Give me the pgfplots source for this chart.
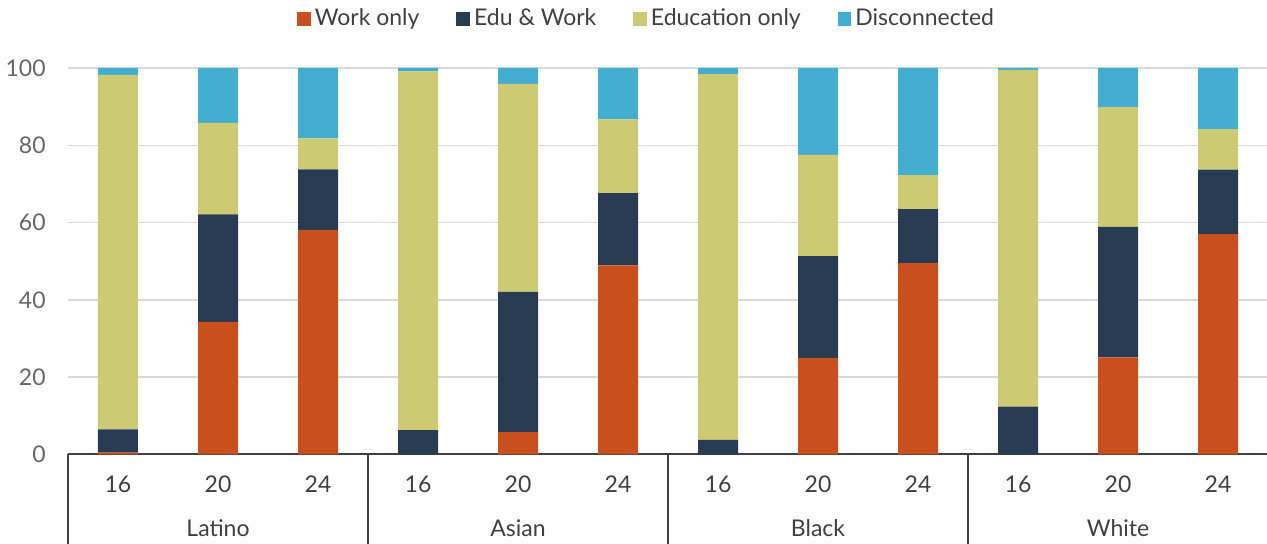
\documentclass[border=0pt]{standalone}
\usepackage{pgfplots}
\pgfplotsset{compat=1.18}
\usepackage{pgfplotstable}
\usepackage{fontspec}
\setmainfont{Lato}

\definecolor{workc}{HTML}{C9501C}
\definecolor{eduworkc}{HTML}{293A53}
\definecolor{educ}{HTML}{CDCA74}
\definecolor{discc}{HTML}{44AED1}
\definecolor{gridc}{HTML}{DADADA}
\definecolor{axc}{HTML}{404040}
\definecolor{ticktxt}{HTML}{666666}

% shares by age (16, 20, 24) within each group
\pgfplotstableread{
x work eduwork edu disc
0  0.5  6.0 91.7  1.8
1 34.3 27.8 23.7 14.2
2 58.1 15.7  8.0 18.2
3  0.0  6.3 92.8  0.9
4  5.8 36.3 53.8  4.1
5 48.9 18.7 19.1 13.3
6  0.0  3.8 94.6  1.6
7 25.0 26.3 26.2 22.5
8 49.5 14.0  8.8 27.7
9  0.0 12.4 87.1  0.5
10 25.1 33.8 31.0 10.1
11 57.0 16.7 10.5 15.8
}\shares

\newcommand{\lblfont}{\fontsize{11.5}{13.5}\selectfont}
\tikzset{grouplbl/.style={anchor=base, inner sep=0pt, text=axc, font=\lblfont},
         groupsep/.style={axc, line width=1pt}}

\begin{document}
\begin{tikzpicture}
\useasboundingbox (-34pt,-44.75pt) rectangle (599.5pt,227.25pt);
\begin{axis}[
  at={(0,0)}, anchor=south west,
  width=600pt, height=193.25pt, scale only axis,
  ybar stacked, bar width=20pt,
  xmin=-0.5, xmax=11.5, ymin=0, ymax=100,
  clip=false,
  axis x line*=bottom,
  axis y line*=left,
  y axis line style={draw=none},
  x axis line style={draw=axc, line width=1pt},
  major tick length=0pt,
  ytick={0,20,...,100},
  ymajorgrids,
  grid style={gridc, line width=0.75pt},
  xtick={0,...,11},
  xticklabels={16,20,24,16,20,24,16,20,24,16,20,24},
  /pgf/number format/assume math mode=true,
  tick label style={font=\lblfont},
  yticklabel style={text=ticktxt, anchor=east, inner sep=0pt, xshift=-11pt},
  xticklabel style={text=axc, anchor=base, inner sep=0pt, yshift=-19pt},
  legend columns=4,
  legend style={draw=none, fill=none, at={(0.483,1)}, anchor=center, yshift=24.5pt,
    font=\lblfont, text=axc,
    /tikz/every even column/.append style={column sep=16.5pt},
    inner sep=0pt, outer sep=0pt},
  legend image code/.code={\fill[#1] (0pt,-3.4pt) rectangle (6.8pt,3.4pt);},
  legend cell align=left,
  every axis plot/.append style={draw=none},
]
\addplot[fill=workc] table[x=x, y=work] {\shares};
\addlegendentry{Work only}
\addplot[fill=eduworkc] table[x=x, y=eduwork] {\shares};
\addlegendentry{Edu \& Work}
\addplot[fill=educ] table[x=x, y=edu] {\shares};
\addlegendentry{Education only}
\addplot[fill=discc] table[x=x, y=disc] {\shares};
\addlegendentry{Disconnected}

% group separators below the axis
\draw[groupsep] (axis cs:-0.5,0) -- ([yshift=-44.75pt]axis cs:-0.5,0);
\draw[groupsep] (axis cs:2.5,0) -- ([yshift=-44.75pt]axis cs:2.5,0);
\draw[groupsep] (axis cs:5.5,0) -- ([yshift=-44.75pt]axis cs:5.5,0);
\draw[groupsep] (axis cs:8.5,0) -- ([yshift=-44.75pt]axis cs:8.5,0);
% group names
\node[grouplbl] at ([yshift=-41pt]axis cs:1,0) {Latino};
\node[grouplbl] at ([yshift=-41pt]axis cs:4,0) {Asian};
\node[grouplbl] at ([yshift=-41pt]axis cs:7,0) {Black};
\node[grouplbl] at ([yshift=-41pt]axis cs:10,0) {White};
\end{axis}
\end{tikzpicture}
\end{document}
